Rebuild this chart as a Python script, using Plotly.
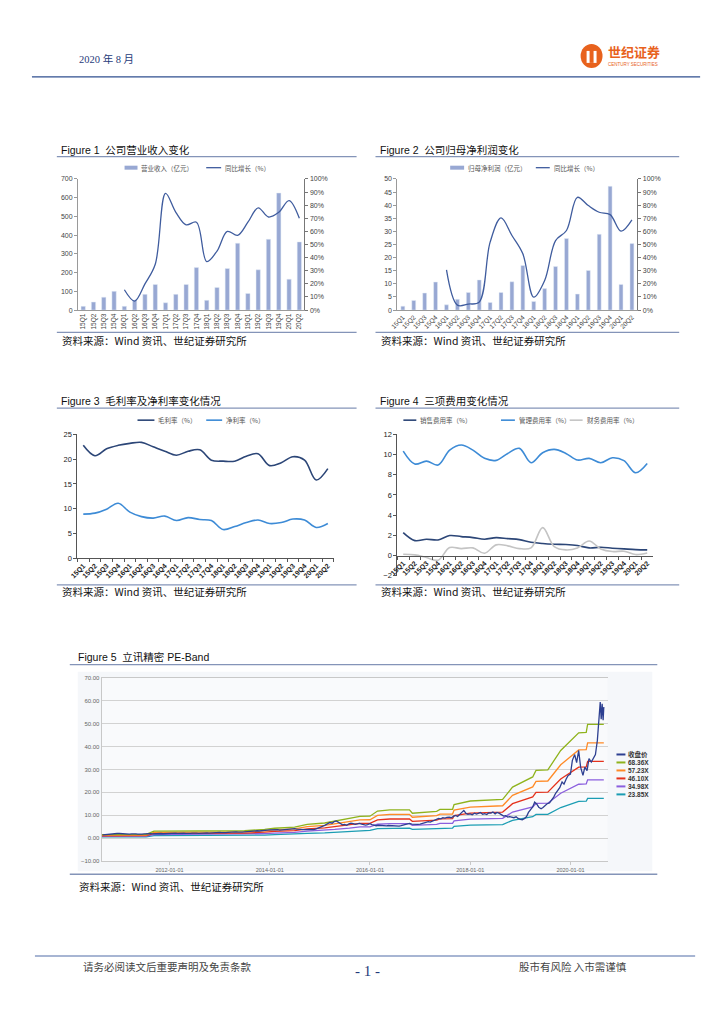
import plotly.graph_objects as go
import pandas as pd

W, H = 724, 1024
# page-pixel -> paper fraction (small calibration so the page sits like the reference)
def fx(x): return (x * 1.0069 - 8) / W
def fy(y): return 1 - (y * 1.0068 - 3) / H

# ---------------- data ----------------
quarters = ['15Q1','15Q2','15Q3','15Q4','16Q1','16Q2','16Q3','16Q4','17Q1','17Q2','17Q3','17Q4',
            '18Q1','18Q2','18Q3','18Q4','19Q1','19Q2','19Q3','19Q4','20Q1','20Q2']
revenue = [20, 43, 69, 100, 20, 53, 84, 137, 39, 84, 137, 227, 52, 121, 222, 357, 89, 215, 378, 625, 165, 364]
revenue_yoy = [None, None, None, None, 15.5, 6.9, 20, 35, 89, 74.6, 65, 67, 37, 45, 60, 57, 67, 78, 71, 74.6, 83.5, 70]
profit = [1.5, 3.7, 6.5, 10.7, 2.0, 4.1, 6.7, 11.5, 2.9, 6.7, 10.8, 17.0, 3.3, 8.2, 16.6, 27.3, 6.1, 15.1, 28.9, 47.2, 9.8, 25.4]
profit_yoy = [None, None, None, None, 30.7, 3.8, 4.6, 6.1, 51.8, 70.3, 56.9, 42.9, 9.9, 22.6, 53, 60.7, 86, 79.7, 74.6, 72.8, 60.2, 68.8]
gross_margin = [22.8, 20.7, 22.1, 22.8, 23.2, 23.4, 22.5, 21.6, 20.8, 21.6, 21.9, 19.8, 19.6, 19.6, 20.6, 21.1, 18.7, 19.3, 20.5, 19.8, 15.8, 18.1]
net_margin = [8.9, 9.1, 9.9, 11.1, 9.3, 8.4, 8.1, 8.5, 7.6, 8.2, 7.8, 7.6, 5.8, 6.4, 7.2, 7.7, 7.0, 7.2, 7.9, 7.7, 6.2, 7.0]
sales_exp = [2.27, 1.48, 1.62, 1.55, 1.98, 1.88, 1.78, 1.62, 1.78, 1.68, 1.58, 1.32, 1.19, 1.12, 1.09, 0.99, 0.76, 0.82, 0.73, 0.66, 0.59, 0.56]
admin_exp = [10.35, 9.07, 9.36, 8.97, 10.45, 10.95, 10.45, 9.63, 9.43, 10.12, 10.62, 9.2, 10.19, 10.52, 10.12, 9.46, 9.63, 9.2, 9.69, 9.4, 8.21, 9.13]
fin_exp = [0.13, 0.07, -0.2, -0.46, 0.79, 0.69, 0.76, 0.23, 1.06, 0.96, 0.69, 0.76, 2.77, 0.89, 0.56, 0.76, 1.45, 0.66, 0.4, 0.43, 0.1, 0.26]

# PE band
pe_multiples = [68.36, 57.23, 46.10, 34.98, 23.85]
pe_labels = ['68.36X', '57.23X', '46.10X', '34.98X', '23.85X']
eps_dates = ['2010-08-26', '2011-07-15', '2011-09-10', '2013-07-01', '2013-11-25', '2014-02-05', '2014-07-01',
             '2014-10-01', '2015-02-05', '2015-04-20', '2015-08-05', '2015-10-20', '2016-01-01', '2016-02-25',
             '2016-05-25', '2016-10-15', '2016-11-05', '2017-05-01', '2017-05-25', '2017-08-25', '2017-09-05',
             '2018-01-01', '2018-08-25', '2018-11-05', '2019-04-01', '2019-04-25', '2019-07-20', '2019-10-22',
             '2020-03-01', '2020-04-25', '2020-05-05', '2020-08-31']
eps_ttm = [0.022, 0.0234, 0.0439, 0.0468, 0.0556, 0.0629, 0.0702, 0.0878, 0.0965, 0.108, 0.124, 0.139, 0.140,
           0.173, 0.181, 0.181, 0.159, 0.171, 0.183, 0.184, 0.214, 0.237, 0.247, 0.326, 0.391, 0.433, 0.436,
           0.560, 0.673, 0.676, 0.727, 0.727]
close_2010_2020 = [
    1.4, 1.5, 1.6, 1.8, 1.9, 1.8, 1.9, 2.0,
    2.0, 1.9, 1.8, 1.9, 1.8, 1.7, 1.8, 1.9, 1.8, 1.7, 1.6, 1.7, 1.8, 1.9, 2.0, 1.9, 1.8, 1.9, 2.0, 2.1, 2.0, 1.9, 2.0, 2.1,
    2.1, 2.2, 2.3, 2.2, 2.1, 2.2, 2.3, 2.2, 2.1, 2.0, 2.1, 2.2, 2.3, 2.2, 2.1, 2.2, 2.3, 2.4, 2.3, 2.2, 2.3, 2.4, 2.5, 2.4,
    2.5, 2.4, 2.3, 2.4, 2.5, 2.6, 2.5, 2.6, 2.7, 2.6, 2.5, 2.6, 2.7, 2.8, 2.9, 3.0, 3.1, 3.0, 3.2, 3.1, 3.3, 3.2, 3.4, 3.5,
    3.6, 3.7, 3.8, 3.6, 3.7, 3.5, 3.6, 3.8, 3.9, 3.7, 3.8, 4.0, 4.1, 3.9, 4.0, 3.8, 3.7, 3.6, 3.7, 3.8, 3.6, 3.7, 3.9, 4.2,
    4.6, 5.0, 5.4, 5.9, 6.3, 6.8, 6.5, 7.2, 7.5, 7.0, 6.4, 5.8, 6.0, 5.6, 6.2, 6.5, 6.3, 6.0, 6.2, 6.4, 6.1, 5.8, 5.7, 5.9,
    6.3, 5.9, 5.6, 5.4, 5.6, 5.5, 5.7, 5.4, 5.3, 5.5, 5.4, 5.2, 5.3, 5.1, 5.2, 5.4, 5.6, 5.8, 6.2, 6.4, 6.1, 6.0, 5.8, 6.0,
    6.1, 6.3, 6.6, 6.9, 7.2, 7.0, 7.4, 7.8, 8.2, 8.6, 8.4, 8.9, 8.7, 9.1, 9.2, 8.9, 9.5, 9.9, 9.4, 10.2, 11.4, 12.1, 10.8, 10.4,
    10.6, 10.2, 10.9, 10.5, 10.8, 11.2, 10.4, 10.7, 10.3, 11.0, 10.9, 11.4, 10.6, 11.2, 10.8, 10.2, 9.6, 9.8, 9.2, 9.4, 9.1, 8.9, 9.3, 8.6,
    8.2, 8.0, 8.6, 9.4, 11.2, 12.4, 13.6, 15.7, 14.8, 13.5, 12.8, 13.4, 14.3, 15.0, 15.4, 16.5, 17.9, 19.6, 20.8, 22.0, 24.5, 23.6, 25.8, 27.4,
    28.0, 34.0, 36.5, 33.0, 38.3, 31.0, 27.4, 31.0, 29.5, 34.7, 33.2, 35.0, 36.5, 42.7,
]
close_tail_dates = ['2020-07-22', '2020-07-29', '2020-08-05', '2020-08-12', '2020-08-19', '2020-08-26', '2020-08-31']
close_tail = [48.0, 56.0, 59.5, 52.0, 58.7, 51.5, 57.3]
pe_xticks = ['2012-01-01', '2014-01-01', '2016-01-01', '2018-01-01', '2020-01-01']

close_dates = list(pd.date_range('2010-09-01', periods=len(close_2010_2020), freq='SMS').strftime('%Y-%m-%d')) + close_tail_dates
close_vals = close_2010_2020 + close_tail

# ---------------- styles ----------------
CJK = "Noto Sans CJK SC, Liberation Sans, sans-serif"
LAT = "Liberation Sans, Noto Sans CJK SC, sans-serif"
BAR = '#98a8d3'
LINE = '#3f5c9e'
NAVY = '#2c4677'
BLUE = '#3d8bd6'
GRAY_L = '#c4c4c4'
RULE = '#8494b8'

fig = go.Figure()

# Figure 1
fig.add_trace(go.Bar(x=quarters, y=revenue, name='营业收入（亿元）', marker_color=BAR, width=0.42,
                     xaxis='x', yaxis='y', showlegend=False))
fig.add_trace(go.Scatter(x=quarters, y=revenue_yoy, name='同比增长（%）', mode='lines',
                         line=dict(color=LINE, width=1.3, shape='spline', smoothing=1.0),
                         xaxis='x', yaxis='y2', showlegend=False))
# Figure 2
fig.add_trace(go.Bar(x=quarters, y=profit, name='归母净利润（亿元）', marker_color=BAR, width=0.36,
                     xaxis='x2', yaxis='y3', showlegend=False))
fig.add_trace(go.Scatter(x=quarters, y=profit_yoy, name='同比增长（%）', mode='lines',
                         line=dict(color=LINE, width=1.3, shape='spline', smoothing=1.0),
                         xaxis='x2', yaxis='y4', showlegend=False))
# Figure 3
fig.add_trace(go.Scatter(x=quarters, y=gross_margin, name='毛利率（%）', mode='lines',
                         line=dict(color=NAVY, width=1.6, shape='spline', smoothing=1.0),
                         xaxis='x3', yaxis='y5', showlegend=False))
fig.add_trace(go.Scatter(x=quarters, y=net_margin, name='净利率（%）', mode='lines',
                         line=dict(color=BLUE, width=1.6, shape='spline', smoothing=1.0),
                         xaxis='x3', yaxis='y5', showlegend=False))
# Figure 4
fig.add_trace(go.Scatter(x=quarters, y=sales_exp, name='销售费用率（%）', mode='lines',
                         line=dict(color=NAVY, width=1.6, shape='spline', smoothing=1.0),
                         xaxis='x4', yaxis='y6', showlegend=False))
fig.add_trace(go.Scatter(x=quarters, y=admin_exp, name='管理费用率（%）', mode='lines',
                         line=dict(color=BLUE, width=1.6, shape='spline', smoothing=1.0),
                         xaxis='x4', yaxis='y6', showlegend=False))
fig.add_trace(go.Scatter(x=quarters, y=fin_exp, name='财务费用率（%）', mode='lines',
                         line=dict(color=GRAY_L, width=1.6, shape='spline', smoothing=1.0),
                         xaxis='x4', yaxis='y6', showlegend=False))
# Figure 5
band_colors = ['#8fb31c', '#ff8a26', '#e5321c', '#8b5fde', '#1b9db3']
for m, lab, c in reversed(list(zip(pe_multiples, pe_labels, band_colors))):
    fig.add_trace(go.Scatter(x=eps_dates, y=[e * m for e in eps_ttm], name=lab, mode='lines',
                             line=dict(color=c, width=1.3), xaxis='x5', yaxis='y7', showlegend=False))
fig.add_trace(go.Scatter(x=close_dates, y=close_vals, name='收盘价', mode='lines',
                         line=dict(color='#2d3f91', width=1.3), xaxis='x5', yaxis='y7', showlegend=False))

# ---------------- axes ----------------
tick_small = dict(size=7, color='#444', family=LAT)
cat_range = [-0.5, len(quarters) - 0.5]

def dom_x(a, b): return [fx(a), fx(b)]
def dom_y(top, bottom): return [fy(bottom), fy(top)]

layout_axes = dict(
    xaxis=dict(domain=dom_x(78.3, 305.7), anchor='y', type='category', range=cat_range, tickangle=-90,
               tickfont=dict(size=6.5, color='#444', family=LAT), showline=True, linecolor='#9a9a9a',
               ticks='', showgrid=False, zeroline=False),
    yaxis=dict(domain=dom_y(178.3, 309.7), anchor='x', range=[0, 700], dtick=100, tickfont=tick_small,
               showline=True, linecolor='#9a9a9a', ticks='outside', ticklen=3, tickcolor='#9a9a9a',
               showgrid=False, zeroline=False),
    yaxis2=dict(overlaying='y', anchor='x', side='right', range=[0, 100], dtick=10, ticksuffix='%',
                tickfont=tick_small, showline=True, linecolor='#777', ticks='outside', ticklen=3,
                tickcolor='#777', showgrid=False, zeroline=False),
    xaxis2=dict(domain=dom_x(399, 640), anchor='y3', type='category', range=cat_range, tickangle=-45,
                tickfont=dict(size=6.5, color='#444', family=LAT), showline=True, linecolor='#9a9a9a',
                ticks='', showgrid=False, zeroline=False),
    yaxis3=dict(domain=dom_y(178.3, 309.7), anchor='x2', range=[0, 50], dtick=5, tickfont=tick_small,
                showline=True, linecolor='#9a9a9a', ticks='outside', ticklen=3, tickcolor='#9a9a9a',
                showgrid=False, zeroline=False),
    yaxis4=dict(overlaying='y3', anchor='x2', side='right', range=[0, 100], dtick=10, ticksuffix='%',
                tickfont=tick_small, showline=True, linecolor='#777', ticks='outside', ticklen=3,
                tickcolor='#777', showgrid=False, zeroline=False),
    xaxis3=dict(domain=dom_x(77.7, 335), anchor='y5', type='category', range=cat_range, tickangle=-45,
                tickfont=dict(size=7, color='#222', family=LAT, weight='bold'), showline=True,
                linecolor='#555', ticks='outside', ticklen=3, tickcolor='#555', tickson='boundaries',
                showgrid=False, zeroline=False),
    yaxis5=dict(domain=dom_y(434.3, 558.3), anchor='x3', range=[0, 25], dtick=5,
                tickfont=dict(size=7.5, color='#222', family=LAT), showline=True, linecolor='#555',
                ticks='outside', ticklen=3, tickcolor='#555', showgrid=False, zeroline=False),
    xaxis4=dict(domain=dom_x(399, 655.7), anchor='free', position=fy(555.7), type='category', range=cat_range,
                tickangle=-45, tickfont=dict(size=7, color='#222', family=LAT, weight='bold'), showline=True,
                linecolor='#555', ticks='outside', ticklen=3, tickcolor='#555', tickson='boundaries',
                showgrid=False, zeroline=False),
    yaxis6=dict(domain=dom_y(434.3, 575.9), anchor='x4', range=[-2, 12], dtick=2,
                tickfont=dict(size=7.5, color='#222', family=LAT), showline=True, linecolor='#555',
                ticks='outside', ticklen=3, tickcolor='#555', showgrid=False, zeroline=False),
    xaxis5=dict(domain=dom_x(102, 610), anchor='y7', type='date', range=['2010-08-25', '2020-09-27'],
                tickvals=pe_xticks, ticktext=pe_xticks, tickfont=dict(size=5.5, color='#666', family=LAT),
                showline=True, linecolor='#c8c8c8', mirror=True, ticks='outside', ticklen=3,
                tickcolor='#c8c8c8', showgrid=False, zeroline=False),
    yaxis7=dict(domain=dom_y(678.3, 861.7), anchor='x5', range=[-10, 70], dtick=10, tickformat='.2f',
                tickfont=dict(size=6, color='#666', family=LAT), showline=True, linecolor='#c8c8c8',
                ticks='', showgrid=True, gridcolor='#d2d2d2', gridwidth=1, zeroline=False),
)

# ---------------- page furniture ----------------
shapes = []
annotations = []

def hline(x0, x1, y, color, width=1.0):
    shapes.append(dict(type='line', xref='paper', yref='paper', x0=fx(x0), x1=fx(x1), y0=fy(y), y1=fy(y),
                       line=dict(color=color, width=width)))

def txt(x, y, s, size, color='#222', family=CJK, anchor='left', weight='normal'):
    annotations.append(dict(xref='paper', yref='paper', x=fx(x), y=fy(y), text=s, showarrow=False,
                            xanchor=anchor, yanchor='middle', borderpad=0,
                            font=dict(size=size, color=color, family=family, weight=weight)))

def leg_line(x0, x1, y, color, width=1.6):
    hline(x0, x1, y, color, width)

def leg_rect(x0, x1, y, color, h=4):
    shapes.append(dict(type='rect', xref='paper', yref='paper', x0=fx(x0), x1=fx(x1), y0=fy(y + h / 2),
                       y1=fy(y - h / 2), fillcolor=color, line=dict(width=0)))

# Figure 5 panel background
shapes.append(dict(type='rect', xref='paper', yref='paper', x0=fx(78), x1=fx(655), y0=fy(872), y1=fy(672),
                   fillcolor='#f5f7fa', line=dict(width=0), layer='below'))
shapes.append(dict(type='rect', xref='paper', yref='paper', x0=fx(102), x1=fx(610), y0=fy(861.7), y1=fy(678.3),
                   fillcolor='#f9fafc', line=dict(width=0), layer='below'))

# header
txt(78, 58, '2020 年 8 月', 10.5, color='#1f3b7a', family='Liberation Serif, Noto Sans CJK SC, serif')
hline(32, 703, 76, '#2f4f8f', 1.2)
shapes.append(dict(type='circle', xref='paper', yref='paper', x0=fx(583), x1=fx(605), y0=fy(67), y1=fy(43),
                   fillcolor='#e8621d', line=dict(width=0)))
shapes.append(dict(type='rect', xref='paper', yref='paper', x0=fx(589), x1=fx(599), y0=fy(62), y1=fy(50),
                   fillcolor='#ffffff', line=dict(width=0)))
shapes.append(dict(type='rect', xref='paper', yref='paper', x0=fx(592), x1=fx(596), y0=fy(62), y1=fy(47),
                   fillcolor='#e8621d', line=dict(width=0)))
txt(609, 51, '世纪证券', 13, color='#e8621d', weight='bold')
txt(609, 64, 'CENTURY SECURITIES', 4.5, color='#e8621d', family=LAT)

# footer
hline(35, 698, 957, '#8a9cc4', 1.6)
txt(82, 967, '请务必阅读文后重要声明及免责条款', 10.5, color='#444')
txt(369, 972, '- 1 -', 15, color='#1f3b7a', family='Liberation Serif, serif', anchor='center')
txt(520, 967, '股市有风险 入市需谨慎', 10.5, color='#444')

# figure titles, rules, sources
def block(x0, x1, title, y_title, y_rule_top, y_rule_bot, y_src, tx):
    txt(tx, y_title, title, 10.5, color='#111', family=LAT)
    hline(x0, x1, y_rule_top, RULE, 1.3)
    hline(x0, x1, y_rule_bot, RULE, 1.3)
    txt(tx + 1, y_src, '资料来源：Wind 资讯、世纪证券研究所', 10.5, color='#111')

block(57, 358, 'Figure 1  公司营业收入变化', 149, 156, 332, 340, 60)
block(377, 682, 'Figure 2  公司归母净利润变化', 149, 156, 332, 340, 381)
block(57, 358, 'Figure 3  毛利率及净利率变化情况', 401, 408, 585, 592, 60)
block(377, 682, 'Figure 4  三项费用变化情况', 401, 408, 585, 592, 381)
block(70, 660, 'Figure 5  立讯精密 PE-Band', 657, 665, 875, 887, 77)

# legends
LEG = dict(size=6.5, color='#555')
leg_rect(125, 138, 167, BAR)
txt(141, 167, '营业收入（亿元）', **LEG)
leg_line(207, 222, 167, LINE, 1.3)
txt(225, 167, '同比增长（%）', **LEG)

leg_rect(452, 466, 167, BAR)
txt(469, 167, '归母净利润（亿元）', **LEG)
leg_line(538, 552, 167, LINE, 1.3)
txt(555, 167, '同比增长（%）', **LEG)

leg_line(138, 155, 420, NAVY)
txt(158, 420, '毛利率（%）', **LEG)
leg_line(207, 223, 420, BLUE)
txt(226, 420, '净利率（%）', **LEG)

leg_line(405, 418, 420, NAVY)
txt(421, 420, '销售费用率（%）', **LEG)
leg_line(503, 517, 420, BLUE)
txt(520, 420, '管理费用率（%）', **LEG)
leg_line(572, 585, 420, GRAY_L)
txt(588, 420, '财务费用率（%）', **LEG)

pe_leg_names = ['收盘价'] + pe_labels
pe_leg_colors = ['#2d3f91'] + band_colors
for i, (n, c) in enumerate(zip(pe_leg_names, pe_leg_colors)):
    yy = 755 + 8 * i
    leg_line(619, 628, yy, c, 2)
    txt(630, yy, n, 6.5, color='#333', family=LAT, weight='bold')

fig.update_layout(
    width=W, height=H, autosize=False,
    margin=dict(l=0, r=0, t=0, b=0),
    paper_bgcolor='#ffffff', plot_bgcolor='rgba(0,0,0,0)',
    showlegend=False, barmode='overlay',
    font=dict(family=LAT, size=7, color='#333'),
    shapes=shapes, annotations=annotations,
    **layout_axes,
)

fig.write_html('out.html', config={'displayModeBar': False},
               post_script="document.body.style.margin='0px';document.body.style.overflow='hidden';")
